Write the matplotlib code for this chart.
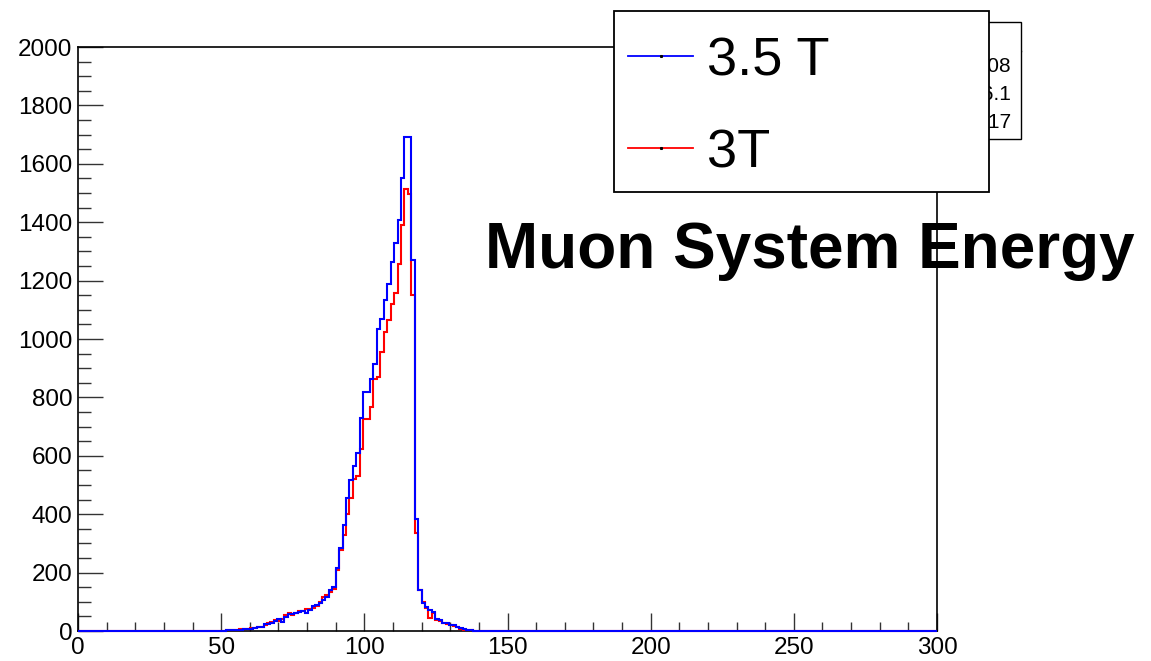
import numpy as np
import matplotlib.pyplot as plt
from matplotlib.patches import Rectangle
from matplotlib.lines import Line2D
from matplotlib.ticker import MultipleLocator

plt.rcParams['font.family'] = ['Liberation Sans', 'DejaVu Sans']

# histogram binning: 250 bins from 0 to 300
edges = np.linspace(0, 300, 251)
first_bin = 42  # first non-empty bin (50.4)

# bin contents, bins 42..114
counts_35T = [1, 2, 2, 3, 4, 5, 6, 7, 8, 10,
              12, 15, 23, 23, 28, 35, 40, 32, 47, 57,
              57, 60, 65, 70, 60, 72, 85, 90, 95, 107,
              118, 140, 150, 217, 283, 363, 457, 517, 566, 611,
              729, 820, 820, 862, 914, 1033, 1067, 1134, 1188, 1265,
              1328, 1407, 1550, 1691, 1691, 1270, 382, 140, 95, 83,
              72, 65, 41, 38, 28, 28, 22, 20, 14, 10,
              6, 3, 2]
counts_3T = [1, 2, 3, 3, 5, 6, 7, 8, 9, 11,
             12, 12, 20, 28, 32, 38, 35, 40, 55, 60,
             55, 62, 68, 70, 75, 74, 80, 85, 100, 115,
             125, 135, 145, 210, 277, 329, 400, 456, 520, 532,
             623, 725, 725, 768, 862, 869, 957, 1025, 1065, 1120,
             1156, 1256, 1390, 1513, 1495, 1150, 335, 140, 100, 80,
             45, 60, 38, 35, 28, 25, 20, 16, 12, 8,
             5, 3, 2]

labels = ['3.5 T', '3T']
colors = ['blue', 'red']
title = 'Muon System Energy'
stats_lines = ['Entries   25008', 'Mean    106.1', 'Std Dev   10.17']

h35 = np.zeros(len(edges) - 1)
h35[first_bin:first_bin + len(counts_35T)] = counts_35T
h3 = np.zeros(len(edges) - 1)
h3[first_bin:first_bin + len(counts_3T)] = counts_3T

W, H = 1151, 661
fig = plt.figure(figsize=(W / 100, H / 100), dpi=100)
ax = fig.add_axes([78 / W, 1 - 631 / H, (937 - 78) / W, (631 - 47) / H])

ax.stairs(h3, edges, color=colors[1], lw=1.5, baseline=None, clip_on=False, zorder=3)
ax.stairs(h35, edges, color=colors[0], lw=1.5, baseline=None, clip_on=False, zorder=4)

ax.set_xlim(0, 300)
ax.set_ylim(0, 2000)
ax.xaxis.set_major_locator(MultipleLocator(50))
ax.xaxis.set_minor_locator(MultipleLocator(10))
ax.yaxis.set_major_locator(MultipleLocator(200))
ax.yaxis.set_minor_locator(MultipleLocator(50))
ax.tick_params(axis='both', which='both', direction='in', color='#333333',
               width=1.0, labelsize=17.5, pad=4)
ax.tick_params(axis='x', which='major', length=13)
ax.tick_params(axis='x', which='minor', length=6.5)
ax.tick_params(axis='y', which='major', length=18)
ax.tick_params(axis='y', which='minor', length=9)
for s in ax.spines.values():
    s.set_linewidth(1.2)

# stats box (mostly hidden behind the legend)
fig.patches.append(Rectangle((940 / W, 1 - 139 / H), (1021 - 940) / W, (139 - 22) / H,
                             transform=fig.transFigure, fc='white', ec='black',
                             lw=1.0, zorder=1))
fig.lines.append(Line2D([940 / W, 1021 / W], [1 - 51 / H, 1 - 51 / H],
                        transform=fig.transFigure, color='black', lw=1.0, zorder=1))
for i, t in enumerate(stats_lines):
    fig.text(1011 / W, 1 - (67 + 28 * i) / H, t, ha='right', va='center',
             fontsize=15, zorder=1)

# legend frame drawn separately so the padding can be set freely
fig.patches.append(Rectangle((614 / W, 1 - 192 / H), (989 - 614) / W, (192 - 11) / H,
                             transform=fig.transFigure, fc='white', ec='black',
                             lw=1.3, zorder=4))
handles = [Line2D([], [], color=c, lw=1.3, marker='s', ms=1.2,
                  mfc='black', mec='black') for c in colors]
leg = fig.legend(handles, labels, loc='upper left',
                 bbox_to_anchor=(628 / W, 1 - 36 / H),
                 borderaxespad=0, fontsize=39, frameon=False,
                 borderpad=0, handlelength=1.2, handletextpad=0.25,
                 labelspacing=0.78, numpoints=1)
leg.set_zorder(5)

fig.text(810 / W, 1 - 268 / H, title, ha='center', va='baseline',
         fontsize=46, fontweight='bold', zorder=6)

fig.savefig('out.png', dpi=100)
